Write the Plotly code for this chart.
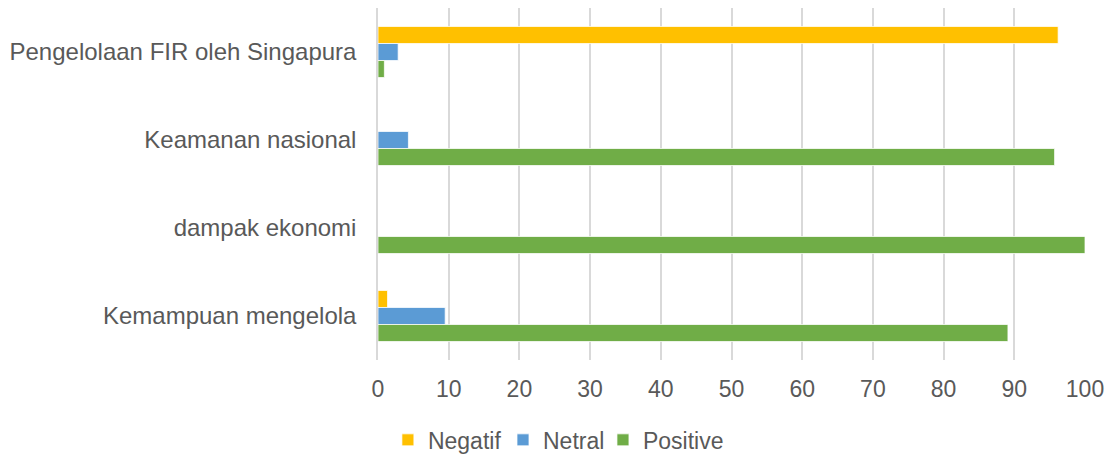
import plotly.graph_objects as go

categories = ["Pengelolaan FIR oleh Singapura", "Keamanan nasional", "dampak ekonomi", "Kemampuan mengelola"]
negatif = [96.2, 0, 0, 1.35]
netral = [2.85, 4.3, 0, 9.5]
positive = [0.9, 95.7, 100, 89.1]
x_ticks = [0, 10, 20, 30, 40, 50, 60, 70, 80, 90, 100]

series = [("Negatif", negatif, "#FFC000", "legend", 0.014),
          ("Netral", netral, "#5B9BD5", "legend2", 0.1768),
          ("Positive", positive, "#70AD47", "legend3", 0.3182)]

fig = go.Figure()
legend_layouts = {}
for name, vals, color, leg, lx in series:
    fig.add_trace(go.Bar(y=categories, x=vals, name=name, orientation="h", legend=leg,
                         marker=dict(color=color, line=dict(color="white", width=0.75))))
    legend_layouts[leg] = dict(orientation="h", x=lx, xanchor="left", xref="paper", y=-0.227,
                               yanchor="middle", font=dict(size=23, color="#595959"),
                               itemwidth=30, bgcolor="rgba(0,0,0,0)")

fig.update_layout(
    width=1110, height=454,
    margin=dict(l=378, r=25, t=8, b=94, autoexpand=False),
    paper_bgcolor="white", plot_bgcolor="white",
    barmode="group", bargap=0.42, bargroupgap=0,
    font=dict(family="Liberation Sans, Arial, sans-serif", size=24, color="#595959"),
    showlegend=True,
    **legend_layouts,
)
fig.update_xaxes(range=[0, 100], tickvals=x_ticks, showgrid=True, gridcolor="#D9D9D9", gridwidth=1.5,
                 zeroline=False, showline=False, ticks="outside", ticklen=8, tickcolor="rgba(0,0,0,0)",
                 tickfont=dict(size=23, color="#595959"))
fig.update_yaxes(autorange="reversed", showgrid=False, showline=True, linecolor="#D9D9D9", linewidth=1.5,
                 ticks="outside", ticklen=15, tickcolor="rgba(0,0,0,0)",
                 tickfont=dict(size=24, color="#595959"))

fig.write_html("out.html")
